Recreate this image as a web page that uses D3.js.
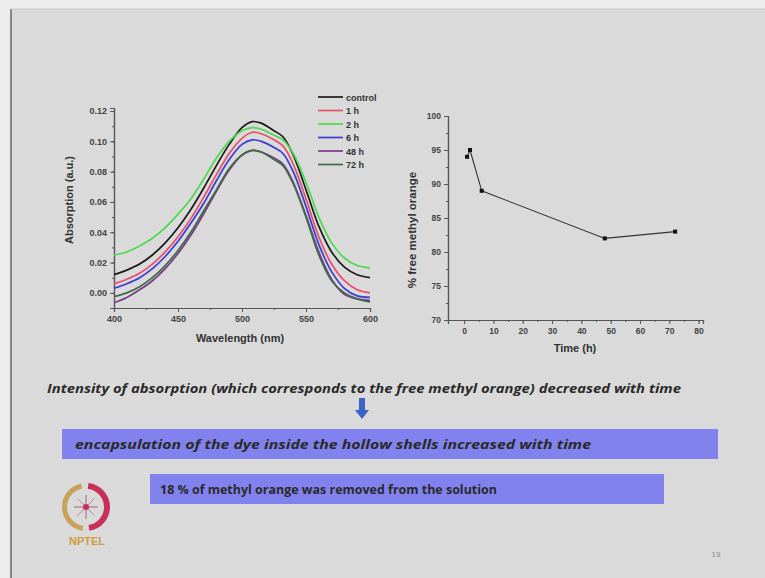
<!DOCTYPE html>
<html>
<head>
<meta charset="utf-8">
<script src="https://cdn.jsdelivr.net/npm/d3@7"></script>
<style>
  body { margin: 0; background: #dadada; }
  svg { display: block; }
  .tick text { font-family: "Liberation Sans", Arial, sans-serif; font-weight: bold; fill: #444; }
</style>
</head>
<body>
<svg id="slide" width="765" height="578"></svg>
<script>
// ---- data ----
const wavelengths = [400, 410, 420, 430, 440, 450, 460, 470, 480, 490, 500, 508, 515, 525, 532, 540, 550, 560, 570, 580, 590, 600];

const control = [0.012, 0.015, 0.019, 0.025, 0.033, 0.043, 0.055, 0.069, 0.084, 0.098, 0.109, 0.113, 0.112, 0.107, 0.103, 0.091, 0.068, 0.044, 0.027, 0.017, 0.012, 0.010];
const h1      = [0.006, 0.009, 0.013, 0.019, 0.027, 0.037, 0.049, 0.063, 0.078, 0.092, 0.102, 0.106, 0.105, 0.101, 0.097, 0.085, 0.062, 0.037, 0.019, 0.008, 0.002, 0.000];
const h2      = [0.025, 0.027, 0.031, 0.036, 0.043, 0.052, 0.062, 0.075, 0.089, 0.100, 0.107, 0.109, 0.108, 0.104, 0.101, 0.092, 0.073, 0.050, 0.033, 0.023, 0.018, 0.0165];
const h6      = [0.003, 0.006, 0.010, 0.016, 0.024, 0.034, 0.046, 0.059, 0.074, 0.088, 0.098, 0.101, 0.100, 0.096, 0.092, 0.080, 0.057, 0.032, 0.014, 0.003, -0.002, -0.003];
const h48     = [-0.0065, -0.003, 0.002, 0.008, 0.016, 0.026, 0.038, 0.052, 0.067, 0.081, 0.091, 0.094, 0.093, 0.089, 0.085, 0.073, 0.051, 0.027, 0.009, -0.001, -0.004, -0.005];
const h72     = [-0.0025, 0.000, 0.004, 0.010, 0.018, 0.028, 0.040, 0.054, 0.068, 0.082, 0.091, 0.094, 0.093, 0.088, 0.084, 0.072, 0.050, 0.025, 0.008, 0.000, -0.004, -0.006];

const seriesNames = ["control", "1 h", "2 h", "6 h", "48 h", "72 h"];
const seriesValues = [control, h1, h2, h6, h48, h72];
const seriesColors = ["#1a1a1a", "#e8506a", "#4ed84e", "#3a3ad8", "#7a3a86", "#3f6b4a"];

const absTicks = [0, 0.02, 0.04, 0.06, 0.08, 0.10, 0.12];
const wlTicks = [400, 450, 500, 550, 600];

const timeHours = [1, 2, 6, 48, 72];
const freeMO = [94, 95, 89, 82, 83];
const timeTicks = [0, 10, 20, 30, 40, 50, 60, 70, 80];
const pctTicks = [70, 75, 80, 85, 90, 95, 100];

const svg = d3.select("#slide");
const font = '"Liberation Sans", Arial, sans-serif';

// slide frame
svg.append("rect").attr("width", 765).attr("height", 578).attr("fill", "#dadada");
svg.append("rect").attr("width", 765).attr("height", 9).attr("fill", "#ececec");
svg.append("rect").attr("width", 11).attr("height", 578).attr("fill", "#ececec");
svg.append("line").attr("x1", 11).attr("x2", 11).attr("y1", 9).attr("y2", 578).attr("stroke", "#666").attr("stroke-width", 1.5);
svg.append("line").attr("x1", 11).attr("x2", 765).attr("y1", 9).attr("y2", 9).attr("stroke", "#c8c8c8").attr("stroke-width", 1);

// ---------- left chart: absorption spectra ----------
const x1 = d3.scaleLinear().domain([400, 600]).range([114, 370]);
const y1 = d3.scaleLinear().domain([-0.01, 0.122]).range([308, 108]);

function styleAxis(g, axis) {
  g.call(axis);
  g.select(".domain").attr("stroke", "#555").attr("stroke-width", 1.2);
  g.selectAll(".tick line").attr("stroke", "#555").attr("stroke-width", 1);
}

const left = svg.append("g");
left.append("g").attr("transform", "translate(0,308)")
  .call(g => styleAxis(g, d3.axisBottom(x1).tickValues(d3.range(400, 601, 25)).tickSize(2).tickFormat("")));
left.append("g").attr("transform", "translate(0,308)")
  .call(g => styleAxis(g, d3.axisBottom(x1).tickValues(wlTicks).tickSize(4).tickPadding(4).tickFormat(d3.format("d"))))
  .selectAll("text").style("font-size", "9px");
left.append("g").attr("transform", "translate(114,0)")
  .call(g => styleAxis(g, d3.axisLeft(y1).tickValues(d3.range(-0.01, 0.1201, 0.01)).tickSize(2).tickFormat("")));
left.append("g").attr("transform", "translate(114,0)")
  .call(g => styleAxis(g, d3.axisLeft(y1).tickValues(absTicks).tickSize(4).tickPadding(3).tickFormat(d3.format(".2f"))))
  .selectAll("text").style("font-size", "9px");

const line1 = d3.line()
  .x((d, i) => x1(wavelengths[i]))
  .y(d => y1(d))
  .curve(d3.curveCatmullRom);

left.selectAll("path.spec").data(seriesValues).join("path")
  .attr("class", "spec")
  .attr("d", d => line1(d))
  .attr("fill", "none")
  .attr("stroke", (d, i) => seriesColors[i])
  .attr("stroke-width", 1.7);

left.append("text").attr("transform", "translate(73,200) rotate(-90)")
  .attr("text-anchor", "middle").attr("font-family", font).attr("font-weight", "bold")
  .attr("font-size", 11).attr("fill", "#333").text("Absorption (a.u.)");
left.append("text").attr("x", 240).attr("y", 342)
  .attr("text-anchor", "middle").attr("font-family", font).attr("font-weight", "bold")
  .attr("font-size", 11).attr("fill", "#333").text("Wavelength (nm)");

// legend
const legend = left.selectAll("g.leg").data(seriesNames).join("g")
  .attr("class", "leg")
  .attr("transform", (d, i) => `translate(318,${97 + i * 13.5})`);
legend.append("line").attr("x1", 0).attr("x2", 25)
  .attr("stroke", (d, i) => seriesColors[i]).attr("stroke-width", 1.7);
legend.append("text").attr("x", 28).attr("y", 3.5)
  .attr("font-family", font).attr("font-weight", "bold").attr("font-size", 9).attr("fill", "#333")
  .text(d => d);

// ---------- right chart: % free methyl orange ----------
const x2 = d3.scaleLinear().domain([-5.5, 81.5]).range([448, 703]);
const y2 = d3.scaleLinear().domain([70, 100]).range([320, 116]);

const right = svg.append("g");
right.append("g").attr("transform", "translate(0,320)")
  .call(g => styleAxis(g, d3.axisBottom(x2).tickValues(d3.range(0, 81, 5)).tickSize(2).tickFormat("")));
right.append("g").attr("transform", "translate(0,320)")
  .call(g => styleAxis(g, d3.axisBottom(x2).tickValues(timeTicks).tickSize(4).tickPadding(4).tickFormat(d3.format("d"))))
  .selectAll("text").style("font-size", "8.5px");
right.append("g").attr("transform", "translate(448,0)")
  .call(g => styleAxis(g, d3.axisLeft(y2).tickValues(d3.range(70, 100.1, 2.5)).tickSize(2).tickFormat("")));
right.append("g").attr("transform", "translate(448,0)")
  .call(g => styleAxis(g, d3.axisLeft(y2).tickValues(pctTicks).tickSize(4).tickPadding(3).tickFormat(d3.format("d"))))
  .selectAll("text").style("font-size", "8.5px");

const line2 = d3.line().x((d, i) => x2(timeHours[i])).y(d => y2(d));
right.append("path").attr("d", line2(freeMO))
  .attr("fill", "none").attr("stroke", "#333").attr("stroke-width", 1.1);
right.selectAll("rect.pt").data(freeMO).join("rect")
  .attr("class", "pt")
  .attr("x", (d, i) => x2(timeHours[i]) - 2).attr("y", d => y2(d) - 2)
  .attr("width", 4).attr("height", 4).attr("fill", "#111");

right.append("text").attr("transform", "translate(416,230) rotate(-90)")
  .attr("text-anchor", "middle").attr("font-family", font).attr("font-weight", "bold")
  .attr("font-size", 11.5).attr("fill", "#333").text("% free methyl orange");
right.append("text").attr("x", 575).attr("y", 352)
  .attr("text-anchor", "middle").attr("font-family", font).attr("font-weight", "bold")
  .attr("font-size", 11).attr("fill", "#333").text("Time (h)");

// ---------- slide text ----------
const slideFont = '"Open Sans", "Noto Sans", sans-serif';
svg.append("text").attr("x", 47).attr("y", 393)
  .attr("font-family", slideFont).attr("font-style", "italic").attr("font-weight", "bold")
  .attr("font-size", 13).attr("fill", "#2a2a2a")
  .attr("textLength", 634).attr("lengthAdjust", "spacingAndGlyphs")
  .text("Intensity of absorption (which corresponds to the free methyl orange) decreased with time");

// arrow
svg.append("path")
  .attr("d", "M359,398 L365,398 L365,410 L369,410 L362,419 L355,410 L359,410 Z")
  .attr("fill", "#3b62c9");

svg.append("rect").attr("x", 62).attr("y", 429).attr("width", 656).attr("height", 30).attr("fill", "#8282ee");
svg.append("text").attr("x", 75).attr("y", 449)
  .attr("font-family", slideFont).attr("font-style", "italic").attr("font-weight", "bold")
  .attr("font-size", 13).attr("fill", "#2a2a2a")
  .attr("textLength", 516).attr("lengthAdjust", "spacingAndGlyphs")
  .text("encapsulation of the dye inside the hollow shells increased with time");

svg.append("rect").attr("x", 150).attr("y", 474).attr("width", 514).attr("height", 30).attr("fill", "#8282ee");
svg.append("text").attr("x", 160).attr("y", 494)
  .attr("font-family", slideFont).attr("font-weight", "bold")
  .attr("font-size", 13).attr("fill", "#2a2a2a")
  .attr("textLength", 337).attr("lengthAdjust", "spacingAndGlyphs")
  .text("18 % of methyl orange was removed from the solution");

// NPTEL logo
const logo = svg.append("g").attr("transform", "translate(86,507)");
logo.append("path").attr("d", d3.arc()({innerRadius: 19, outerRadius: 24, startAngle: -3.0, endAngle: -0.2}))
  .attr("fill", "#c9a25a");
logo.append("path").attr("d", d3.arc()({innerRadius: 18, outerRadius: 24, startAngle: 0.1, endAngle: 3.0}))
  .attr("fill", "#c8305a");
logo.selectAll("line").data(d3.range(8)).join("line")
  .attr("x1", d => 12 * Math.cos(d * Math.PI / 4)).attr("y1", d => 12 * Math.sin(d * Math.PI / 4))
  .attr("x2", d => -12 * Math.cos(d * Math.PI / 4)).attr("y2", d => -12 * Math.sin(d * Math.PI / 4))
  .attr("stroke", "#b88a9a").attr("stroke-width", 1);
logo.append("circle").attr("r", 3).attr("fill", "#c8305a");
svg.append("text").attr("x", 87).attr("y", 545).attr("text-anchor", "middle")
  .attr("font-family", font).attr("font-weight", "bold").attr("font-size", 11)
  .attr("fill", "#d39a3a").text("NPTEL");

// page number
svg.append("text").attr("x", 716).attr("y", 557).attr("text-anchor", "middle")
  .attr("font-family", font).attr("font-size", 8).attr("fill", "#8a8a8a").text("19");
</script>
</body>
</html>
